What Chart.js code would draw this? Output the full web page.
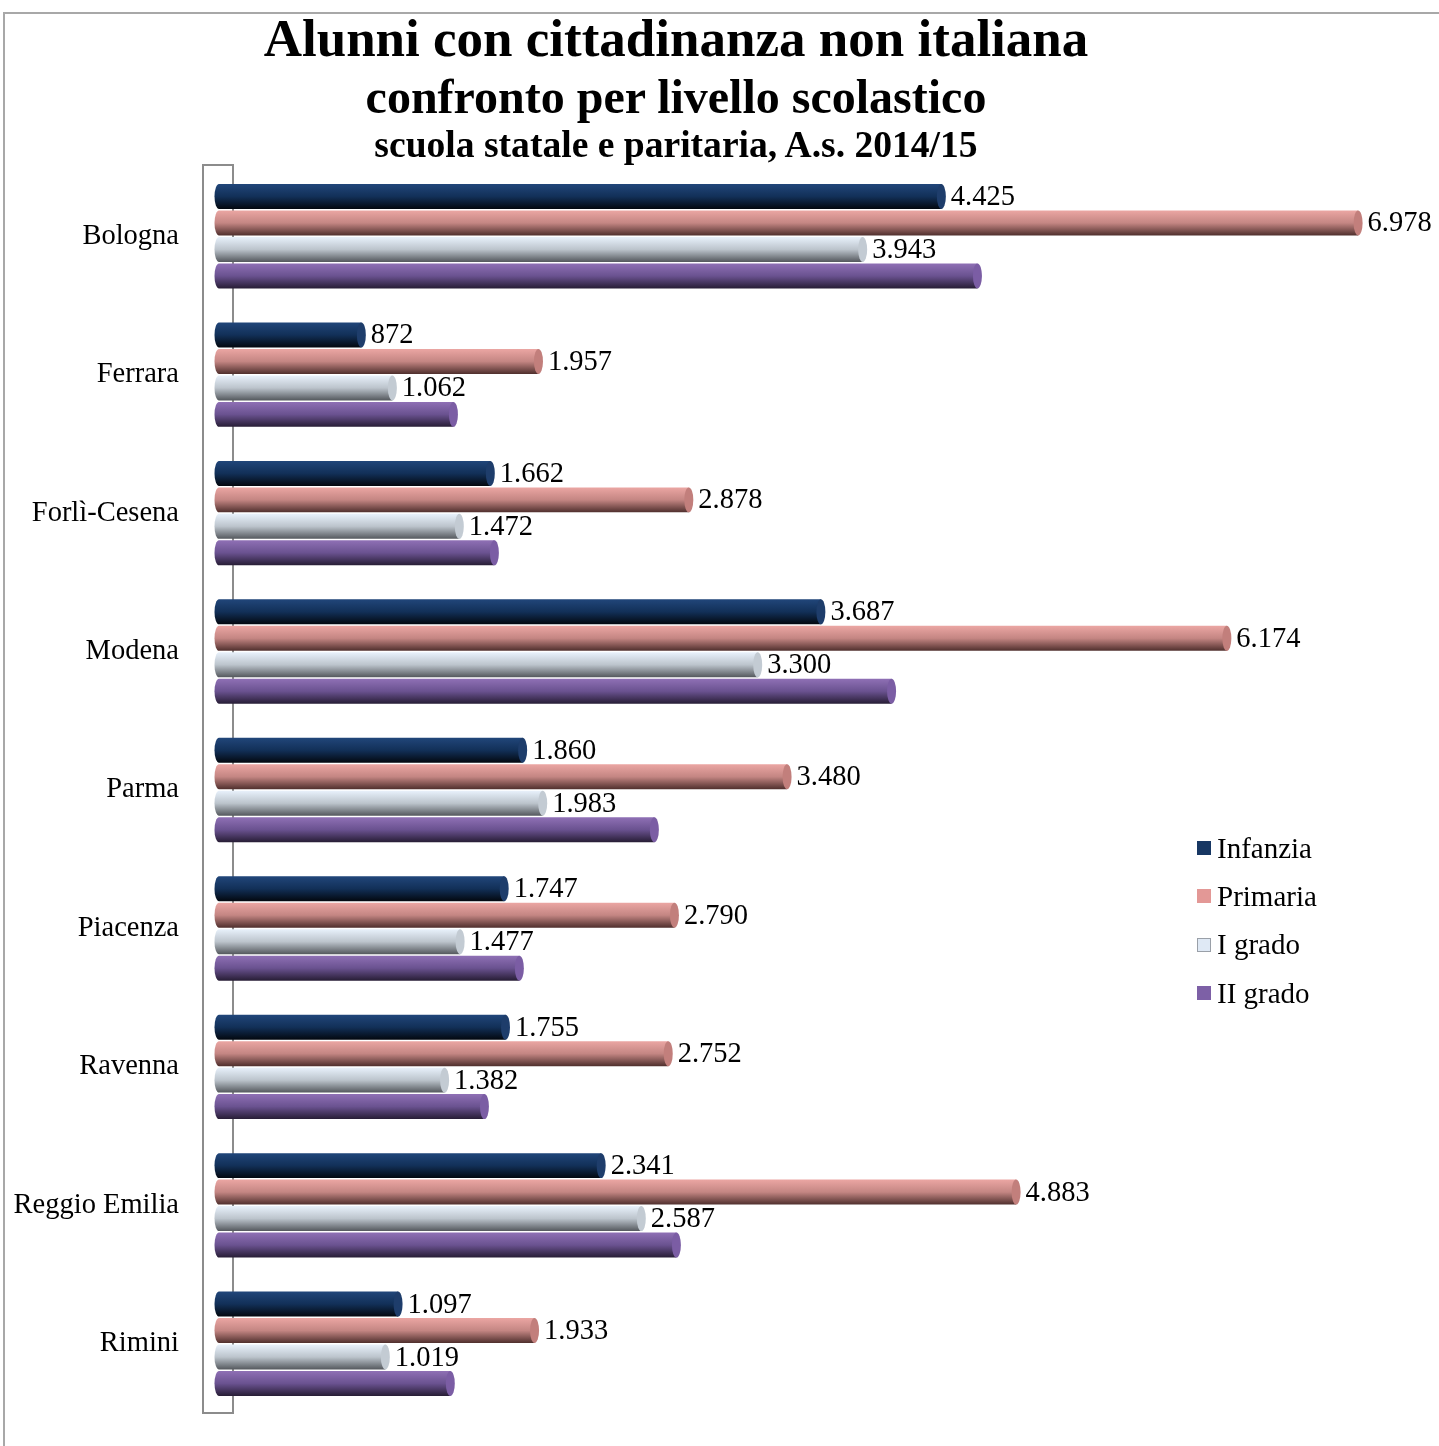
<!DOCTYPE html>
<html lang="it">
<head>
<meta charset="UTF-8">
<title>Alunni con cittadinanza non italiana</title>
<script src="https://cdn.jsdelivr.net/npm/chart.js"></script>
<style>
  body { margin: 0; background: #fff; font-family: "Liberation Serif", "Times New Roman", serif; }
  #wrap { position: relative; width: 1439px; height: 1446px; overflow: hidden; }
  #frame { position: absolute; left: 3px; top: 12px; width: 1450px; height: 1450px; border-left: 2px solid #a8a8a8; border-top: 2px solid #a8a8a8; }
  canvas { position: absolute; left: 0; top: 0; }
  .t { position: absolute; left: 0; width: 1352px; text-align: center; font-weight: bold; color: #000; white-space: nowrap; }
  #t1 { top: 8px; font-size: 53px; }
  #t2 { top: 69px; font-size: 48px; }
  #t3 { top: 123px; font-size: 37.6px; }
  #legend { position: absolute; left: 1197px; top: 824px; font-size: 29px; }
  #legend div { height: 48.3px; display: flex; align-items: center; }
  #legend span.box { width: 14px; height: 14px; margin-right: 6px; box-sizing: border-box; }
</style>
</head>
<body>
<div id="wrap">
  <div id="frame"></div>
  <canvas id="chart" width="1439" height="1446"></canvas>
  <div class="t" id="t1">Alunni con cittadinanza non italiana</div>
  <div class="t" id="t2">confronto per livello scolastico</div>
  <div class="t" id="t3">scuola statale e paritaria, A.s. 2014/15</div>
  <div id="legend"></div>
</div>
<script>
  const province = ['Bologna', 'Ferrara', 'Forlì-Cesena', 'Modena', 'Parma', 'Piacenza', 'Ravenna', 'Reggio Emilia', 'Rimini'];
  const seriesNames = ['Infanzia', 'Primaria', 'I grado', 'II grado'];
  const infanzia = [4425, 872, 1662, 3687, 1860, 1747, 1755, 2341, 1097];
  const primaria = [6978, 1957, 2878, 6174, 3480, 2790, 2752, 4883, 1933];
  const primoGrado = [3943, 1062, 1472, 3300, 1983, 1477, 1382, 2587, 1019];
  // II grado non ha etichette nel grafico: valori stimati dalla lunghezza delle barre
  const secondoGrado = [4646, 1436, 1687, 4120, 2667, 1840, 1626, 2802, 1417];
  const showValue = [true, true, true, false];

  // colori cilindro: [alto, centro, basso, tappo]
  const tinte = [
    ['#21467a', '#123058', '#03080f', '#1e3d6b'],
    ['#eba6a3', '#c48683', '#4f2f2d', '#c27f7c'],
    ['#e8f1fb', '#bcc4cc', '#54585d', '#c3cbd3'],
    ['#8f70b5', '#6a5290', '#271d35', '#7b5da4']
  ];
  const legendColors = ['#173763', '#e39896', '#dfe9f5', '#7d60a6'];

  function fmt(v) {
    return String(v).replace(/\B(?=(\d{3})+(?!\d))/g, '.');
  }

  const cilindri = {
    id: 'cilindri',
    beforeDatasetsDraw(chart) {
      // parete dell'asse 3D
      const ctx = chart.ctx;
      const a = chart.chartArea;
      ctx.save();
      ctx.strokeStyle = '#8c8c8c';
      ctx.lineWidth = 2;
      ctx.strokeRect(a.left - 16, a.top - 2, 30, a.bottom - a.top + 2);
      ctx.restore();
    },
    afterDatasetsDraw(chart) {
      const ctx = chart.ctx;
      const rx = 4.5;
      ctx.save();
      chart.data.datasets.forEach((ds, i) => {
        const meta = chart.getDatasetMeta(i);
        const c = tinte[i];
        meta.data.forEach((bar) => {
          const p = bar.getProps(['x', 'y', 'base', 'height'], true);
          const h = p.height - 1.5;
          const top = p.y - h / 2;
          const g = ctx.createLinearGradient(0, top, 0, top + h);
          g.addColorStop(0, c[0]);
          g.addColorStop(0.5, c[1]);
          g.addColorStop(1, c[2]);
          ctx.fillStyle = g;
          ctx.beginPath();
          ctx.ellipse(p.base, p.y, rx, h / 2, 0, Math.PI / 2, Math.PI * 1.5);
          ctx.lineTo(p.x, top);
          ctx.lineTo(p.x, top + h);
          ctx.closePath();
          ctx.fill();
          ctx.beginPath();
          ctx.ellipse(p.x, p.y, rx, h / 2, 0, 0, Math.PI * 2);
          ctx.fillStyle = c[3];
          ctx.fill();
        });
      });
      ctx.fillStyle = '#000';
      ctx.font = '28.5px "Liberation Serif", serif';
      ctx.textBaseline = 'middle';
      ctx.textAlign = 'left';
      chart.data.datasets.forEach((ds, i) => {
        if (!showValue[i]) return;
        chart.getDatasetMeta(i).data.forEach((bar, j) => {
          const p = bar.getProps(['x', 'y'], true);
          ctx.fillText(fmt(ds.data[j]), p.x + rx + 5, p.y + 1);
        });
      });
      ctx.restore();
    }
  };

  const serie = [infanzia, primaria, primoGrado, secondoGrado];

  new Chart(document.getElementById('chart'), {
    type: 'bar',
    data: {
      labels: province,
      datasets: serie.map((d, i) => ({
        label: seriesNames[i],
        data: d,
        backgroundColor: 'rgba(0,0,0,0)',
        borderWidth: 0,
        barPercentage: 1,
        categoryPercentage: 0.765
      }))
    },
    options: {
      indexAxis: 'y',
      responsive: false,
      animation: false,
      layout: { padding: { top: 167, bottom: 33, right: 12 } },
      plugins: {
        legend: { display: false },
        tooltip: { enabled: false }
      },
      scales: {
        x: {
          display: false,
          min: 0,
          max: 7400
        },
        y: {
          afterFit(scale) {
            scale.width = 219;
            scale.paddingTop = 0;
            scale.paddingBottom = 0;
          },
          grid: { display: false, drawTicks: false },
          border: { display: false },
          ticks: {
            color: '#000',
            padding: 40,
            font: { family: '"Liberation Serif", serif', size: 28.5 }
          }
        }
      }
    },
    plugins: [cilindri]
  });

  const leg = document.getElementById('legend');
  seriesNames.forEach((n, i) => {
    const row = document.createElement('div');
    const box = document.createElement('span');
    box.className = 'box';
    box.style.background = legendColors[i];
    if (i === 2) box.style.border = '1.5px solid #9aa0a8';
    row.appendChild(box);
    row.appendChild(document.createTextNode(n));
    leg.appendChild(row);
  });
</script>
</body>
</html>
